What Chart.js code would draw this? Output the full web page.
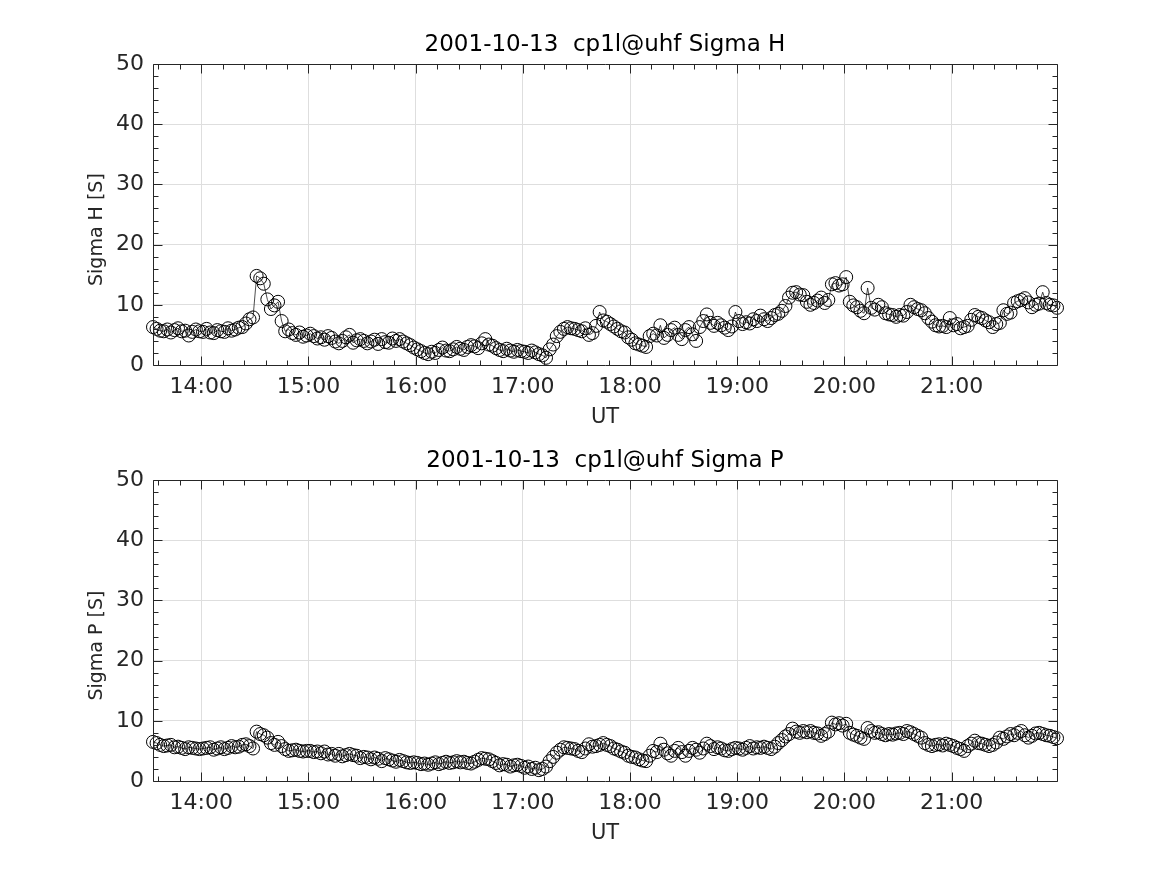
<!DOCTYPE html>
<html>
<head>
<meta charset="utf-8">
<script src="https://cdn.jsdelivr.net/npm/chart.js@4/dist/chart.umd.min.js"></script>
<style>
  body { margin: 0; background: #fff; }
  .panel { position: absolute; left: 0; width: 1167px; height: 440px; }
</style>
</head>
<body>
<div class="panel" style="top:0"><canvas id="chart-h" width="1167" height="440"></canvas></div>
<div class="panel" style="top:416px"><canvas id="chart-p" width="1167" height="440"></canvas></div>
<script>
// 2-minute samples starting 13:33 UT (one row per hour)
const startHour = 13 + 33 / 60;
const stepHour = 2 / 60;

const sigmaH = [
  6.3, 6.0, 5.7, 5.6, 5.9, 5.4, 5.8, 6.1, 5.6, 5.7, 4.9, 5.5, 5.9, 5.6,
  5.5, 6.0, 5.4, 5.3, 5.8, 5.6, 5.5, 6.1, 5.7, 5.9, 6.2, 6.3, 6.9, 7.6, 7.9, 14.8, 14.4, 13.5, 10.9, 9.3, 9.9, 10.5, 7.3, 5.6, 5.9, 5.3, 5.0, 5.4, 4.7, 4.9,
  5.2, 4.8, 4.4, 4.6, 4.2, 4.8, 4.5, 3.9, 3.6, 4.0, 4.6, 5.0, 3.7, 4.1, 4.3, 4.0, 3.6, 3.9, 4.2, 3.5, 4.3, 3.8, 3.7, 4.4, 4.0, 4.3, 3.9, 3.6, 3.3, 2.9,
  2.6, 2.3, 2.0, 1.8, 2.2, 2.0, 2.5, 2.9, 2.4, 2.3, 2.6, 3.0, 2.7, 2.5, 3.0, 3.3, 3.1, 2.8, 3.6, 4.3, 3.4, 3.2, 2.8, 2.5, 2.3, 2.7, 2.4, 2.2, 2.5, 2.3,
  2.2, 2.0, 2.4, 2.1, 1.8, 1.6, 1.2, 2.6, 3.4, 4.8, 5.5, 6.0, 6.3, 6.1, 6.0, 5.8, 5.6, 6.1, 5.0, 5.3, 6.5, 8.8, 7.4, 7.2, 6.8, 6.4, 6.0, 5.6, 5.4, 4.6,
  4.2, 3.6, 3.4, 3.2, 3.0, 4.8, 5.2, 4.9, 6.6, 4.5, 5.0, 5.8, 6.2, 5.0, 4.3, 5.8, 6.3, 5.1, 4.0, 6.3, 7.3, 8.4, 7.0, 6.5, 7.0, 6.6, 6.2, 5.8, 6.4, 8.8,
  7.3, 6.8, 7.1, 6.9, 7.6, 7.3, 8.2, 7.6, 7.3, 7.8, 8.3, 8.5, 9.0, 9.8, 11.2, 12.0, 12.1, 11.7, 11.6, 10.5, 10.0, 10.3, 10.7, 11.2, 10.3, 10.8, 13.4, 13.6, 13.2, 13.4,
  14.6, 10.5, 9.9, 9.6, 9.0, 8.6, 12.8, 9.5, 9.2, 10.0, 9.6, 8.6, 8.4, 8.3, 8.0, 8.3, 8.2, 8.8, 10.0, 9.6, 9.3, 9.1, 8.6, 7.8, 7.2, 6.6, 6.4, 6.5, 6.3, 7.8,
  6.6, 6.8, 6.1, 6.3, 6.5, 7.5, 8.3, 8.0, 7.8, 7.4, 7.1, 6.3, 6.8, 7.0, 9.1, 8.5, 8.7, 10.3, 10.6, 10.8, 11.1, 10.4, 9.6, 10.0, 10.2, 12.1, 10.3, 10.0, 9.9, 9.5
];

const sigmaP = [
  6.5, 6.3, 6.0, 5.8, 5.9, 6.0, 5.6, 5.7, 5.5, 5.3, 5.6, 5.5, 5.4, 5.3,
  5.4, 5.5, 5.6, 5.2, 5.4, 5.6, 5.3, 5.5, 5.8, 5.6, 5.7, 6.0, 6.1, 5.8, 5.4, 8.2, 7.8, 7.6, 7.2, 6.3, 6.0, 6.5, 5.8, 5.3, 5.0, 5.1, 5.2, 5.0, 4.9, 5.0,
  5.0, 4.8, 4.9, 4.6, 4.9, 4.4, 4.5, 4.2, 4.5, 4.1, 4.3, 4.5, 4.3, 4.2, 3.8, 4.0, 3.9, 3.6, 3.9, 3.7, 3.3, 3.8, 3.6, 3.4, 3.2, 3.5, 3.3, 3.1, 3.0, 3.1,
  3.0, 2.8, 2.9, 2.7, 2.9, 3.1, 2.8, 3.0, 3.2, 3.0, 3.1, 3.3, 3.1, 3.2, 3.0, 2.9, 3.2, 3.5, 3.8, 3.7, 3.6, 3.3, 3.0, 2.6, 2.8, 2.7, 2.4, 2.6, 2.7, 2.5,
  2.2, 2.4, 2.0, 2.2, 1.8, 2.0, 2.4, 3.3, 4.0, 4.7, 5.2, 5.6, 5.5, 5.4, 5.3, 5.0, 4.8, 5.4, 6.1, 5.7, 5.8, 6.0, 6.3, 6.0, 5.8, 5.4, 5.2, 4.9, 4.7, 4.2,
  4.0, 3.9, 3.6, 3.4, 3.3, 4.2, 5.0, 4.8, 6.2, 5.2, 4.6, 4.2, 5.0, 5.5, 4.8, 4.2, 5.0, 5.5, 5.2, 4.7, 5.4, 6.2, 5.8, 5.3, 5.6, 5.4, 5.1, 5.0, 5.3, 5.5,
  5.4, 5.2, 5.5, 5.8, 5.4, 5.6, 5.5, 5.7, 5.5, 5.3, 5.7, 6.3, 6.8, 7.4, 7.8, 8.7, 8.2, 8.0, 8.3, 8.1, 8.3, 8.0, 7.9, 7.5, 7.8, 8.2, 9.7, 9.4, 9.6, 9.2,
  9.5, 8.0, 7.7, 7.5, 7.2, 7.0, 8.8, 8.3, 8.0, 8.1, 7.8, 7.6, 7.8, 7.7, 7.9, 8.0, 7.8, 8.3, 8.1, 7.8, 7.5, 7.2, 6.3, 6.0, 5.8, 6.0, 6.1, 5.9, 6.2, 6.0,
  5.8, 5.5, 5.3, 5.0, 5.8, 6.2, 6.7, 6.3, 6.2, 6.0, 5.8, 6.0, 6.4, 7.2, 7.0, 7.4, 7.8, 7.6, 8.0, 8.3, 7.6, 7.2, 7.5, 7.9, 8.0, 7.8, 7.6, 7.5, 7.3, 7.1
];

const hourTicks = [14, 15, 16, 17, 18, 19, 20, 21];
const hourLabels = ["14:00", "15:00", "16:00", "17:00", "18:00", "19:00", "20:00", "21:00"];
const yTicks = [0, 10, 20, 30, 40, 50];
const xMin = 13 + 33 / 60;
const xMax = 21 + 59 / 60;

const FONT = "DejaVu Sans";
const TEXT = "#262626";

// MATLAB-like box with inward major/minor ticks on all sides
const boxTicks = {
  id: "boxTicks",
  afterDraw(chart) {
    const { ctx, chartArea: a, scales } = chart;
    const x = scales.x, y = scales.y;
    ctx.save();
    ctx.strokeStyle = TEXT;
    ctx.lineWidth = 1;
    ctx.beginPath();
    const L = Math.round(a.left) + 0.5, R = Math.round(a.right) + 0.5;
    const T = Math.round(a.top) + 0.5, B = Math.round(a.bottom) + 0.5;
    ctx.rect(L, T, R - L, B - T);
    // x ticks, every 12 minutes
    for (let m = 13 * 60 + 36; m <= 21 * 60 + 59; m += 12) {
      const px = Math.round(x.getPixelForValue(m / 60)) + 0.5;
      const len = m % 60 === 0 ? 9 : 5;
      ctx.moveTo(px, B); ctx.lineTo(px, B - len);
      ctx.moveTo(px, T); ctx.lineTo(px, T + len);
    }
    // y ticks, every 2
    for (let v = 0; v <= 50; v += 2) {
      const py = Math.round(y.getPixelForValue(v)) + 0.5;
      const len = v % 10 === 0 ? 9 : 5;
      ctx.moveTo(L, py); ctx.lineTo(L + len, py);
      ctx.moveTo(R, py); ctx.lineTo(R - len, py);
    }
    ctx.stroke();
    ctx.restore();
  }
};

function makeChart(id, title, yLabel, values) {
  const points = values.map((v, i) => ({ x: startHour + i * stepHour, y: v }));
  return new Chart(document.getElementById(id), {
    type: "line",
    data: {
      datasets: [{
        data: points,
        borderColor: "#000",
        borderWidth: 0.7,
        pointStyle: "circle",
        pointRadius: 6.5,
        pointBorderWidth: 1,
        pointBorderColor: "#000",
        pointBackgroundColor: "rgba(0,0,0,0)",
        tension: 0,
        clip: 10,
      }],
    },
    options: {
      responsive: false,
      animation: false,
      events: [],
      layout: { padding: { top: 20, right: 110, bottom: 0, left: 0 } },
      plugins: {
        legend: { display: false },
        tooltip: { enabled: false },
        title: {
          display: true,
          fullSize: false,
          text: title,
          color: "#000",
          font: { family: FONT, size: 23, weight: "normal" },
          padding: { top: 11, bottom: 5.4 },
        },
      },
      scales: {
        x: {
          type: "linear",
          min: xMin,
          max: xMax,
          afterBuildTicks: (s) => { s.ticks = hourTicks.map((v) => ({ value: v })); },
          afterFit: (s) => { s.height = 75; },
          grid: { color: "#dedede", drawTicks: false },
          border: { display: false },
          ticks: {
            color: TEXT,
            font: { family: FONT, size: 22 },
            padding: 9,
            maxRotation: 0,
            callback: (v) => hourLabels[hourTicks.indexOf(v)],
          },
          title: {
            display: true,
            text: "UT",
            color: TEXT,
            font: { family: FONT, size: 21 },
            padding: { top: 4, bottom: 10 },
          },
        },
        y: {
          min: 0,
          max: 50,
          afterBuildTicks: (s) => { s.ticks = yTicks.map((v) => ({ value: v })); },
          afterFit: (s) => { s.width = 153; },
          grid: { color: "#dedede", drawTicks: false },
          border: { display: false },
          ticks: {
            color: TEXT,
            font: { family: FONT, size: 22 },
            padding: 9,
          },
          title: {
            display: true,
            text: yLabel + "     ",
            color: TEXT,
            font: { family: FONT, size: 19 },
            padding: { top: 86, bottom: 0 },
          },
        },
      },
    },
    plugins: [boxTicks],
  });
}

makeChart("chart-h", "2001-10-13  cp1l@uhf Sigma H", "Sigma H [S]", sigmaH);
makeChart("chart-p", "2001-10-13  cp1l@uhf Sigma P", "Sigma P [S]", sigmaP);
</script>
</body>
</html>
